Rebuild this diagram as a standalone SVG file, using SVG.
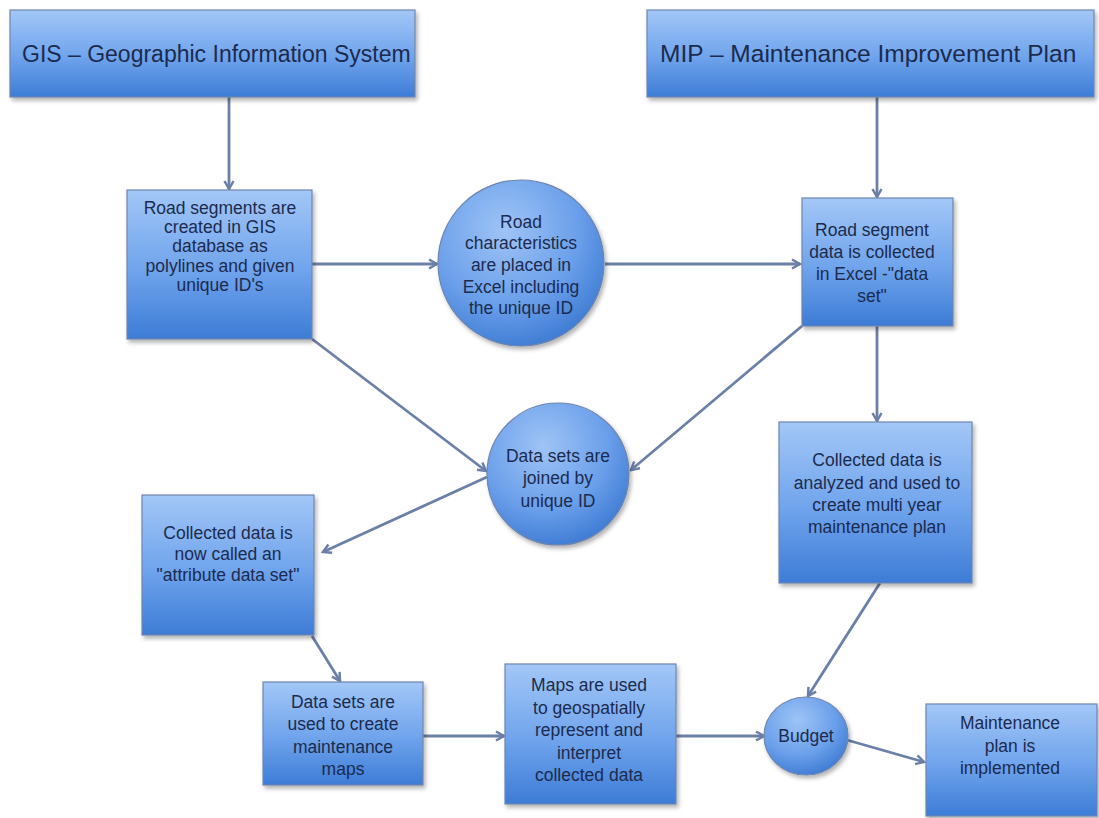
<svg xmlns="http://www.w3.org/2000/svg" width="1099" height="818" viewBox="0 0 1099 818">
<defs>
<linearGradient id="gBox" x1="0" y1="0" x2="0" y2="1">
<stop offset="0" stop-color="#a3c7f7"/>
<stop offset="0.55" stop-color="#6ea3ec"/>
<stop offset="1" stop-color="#3d7cd6"/>
</linearGradient>
<radialGradient id="gCirc" cx="0.4" cy="0.3" r="0.75">
<stop offset="0" stop-color="#9fc4f6"/>
<stop offset="0.6" stop-color="#6a9fea"/>
<stop offset="1" stop-color="#3b79d2"/>
</radialGradient>
<filter id="sh" x="-10%" y="-10%" width="125%" height="125%">
<feDropShadow dx="2" dy="3" stdDeviation="2" flood-color="#000" flood-opacity="0.3"/>
</filter>
<marker id="ah" markerWidth="12" markerHeight="12" refX="10" refY="6" orient="auto" markerUnits="userSpaceOnUse">
<path d="M2,1.5 L10,6 L2,10.5" fill="none" stroke="#6b80a8" stroke-width="2.5" stroke-linejoin="miter"/>
</marker>
</defs>
<style>
.box{fill:url(#gBox);stroke:#6f85ad;stroke-width:1.2;filter:url(#sh)}
.circ{fill:url(#gCirc);stroke:#6f85ad;stroke-width:1.2;filter:url(#sh)}
.t{font-family:"Liberation Sans",Arial,sans-serif;font-size:17.5px;fill:#1c2b4d;text-anchor:middle}
.tt{font-family:"Liberation Sans",Arial,sans-serif;font-size:23px;fill:#1c2b4d}
.c{fill:none;stroke:#6b80a8;stroke-width:2.8;marker-end:url(#ah)}
</style>
<rect width="1099" height="818" fill="#ffffff"/>
<g id="connectors">
<line class="c" x1="229" y1="97" x2="229" y2="189"/>
<line class="c" x1="877" y1="97" x2="877" y2="197"/>
<line class="c" x1="312" y1="264" x2="437" y2="264"/>
<line class="c" x1="605" y1="264" x2="800" y2="264"/>
<line class="c" x1="877" y1="326" x2="877" y2="421"/>
<line class="c" x1="312" y1="339" x2="486" y2="471"/>
<line class="c" x1="802" y1="326" x2="631" y2="470"/>
<line class="c" x1="487" y1="477" x2="323" y2="552"/>
<line class="c" x1="312" y1="636" x2="340" y2="681"/>
<line class="c" x1="423" y1="736" x2="504" y2="736"/>
<line class="c" x1="676" y1="736" x2="764" y2="736"/>
<line class="c" x1="880" y1="583" x2="808" y2="696"/>
<line class="c" x1="847" y1="740" x2="924" y2="762"/>
</g>
<g id="gis">
<rect class="box" x="10" y="10" width="405" height="87"/>
<text class="tt" x="22" y="62">GIS – Geographic Information System</text>
</g>
<g id="mip">
<rect class="box" x="647" y="10" width="447" height="87"/>
<text class="tt" x="660" y="62" style="font-size:24.5px">MIP – Maintenance Improvement Plan</text>
</g>
<g id="road-segments">
<rect class="box" x="127" y="190" width="185" height="149"/>
<text class="t"><tspan x="220" y="214">Road segments are</tspan><tspan x="220" y="233">created in GIS</tspan><tspan x="220" y="252">database as</tspan><tspan x="220" y="272">polylines and given</tspan><tspan x="220" y="291">unique ID's</tspan></text>
</g>
<g id="road-characteristics">
<circle class="circ" cx="521" cy="263" r="83"/>
<text class="t"><tspan x="521" y="228">Road</tspan><tspan x="521" y="249">characteristics</tspan><tspan x="521" y="271">are placed in</tspan><tspan x="521" y="293">Excel including</tspan><tspan x="521" y="314">the unique ID</tspan></text>
</g>
<g id="road-segment-data">
<rect class="box" x="802" y="198" width="151" height="128"/>
<text class="t"><tspan x="872" y="236">Road segment</tspan><tspan x="872" y="258">data is collected</tspan><tspan x="872" y="280">in Excel -"data</tspan><tspan x="872" y="302">set"</tspan></text>
</g>
<g id="data-joined">
<circle class="circ" cx="558" cy="474" r="71"/>
<text class="t"><tspan x="558" y="462">Data sets are</tspan><tspan x="558" y="484">joined by</tspan><tspan x="558" y="507">unique ID</tspan></text>
</g>
<g id="collected-analyzed">
<rect class="box" x="779" y="422" width="193" height="161"/>
<text class="t"><tspan x="877" y="466">Collected data is</tspan><tspan x="877" y="489">analyzed and used to</tspan><tspan x="877" y="511">create multi year</tspan><tspan x="877" y="533">maintenance plan</tspan></text>
</g>
<g id="attribute-data">
<rect class="box" x="142" y="495" width="172" height="140"/>
<text class="t"><tspan x="228" y="539">Collected data is</tspan><tspan x="228" y="560">now called an</tspan><tspan x="228" y="581">"attribute data set"</tspan></text>
</g>
<g id="maintenance-maps">
<rect class="box" x="263" y="682" width="160" height="103"/>
<text class="t"><tspan x="343" y="708">Data sets are</tspan><tspan x="343" y="730">used to create</tspan><tspan x="343" y="753">maintenance</tspan><tspan x="343" y="775">maps</tspan></text>
</g>
<g id="maps-used">
<rect class="box" x="505" y="664" width="171" height="140"/>
<text class="t"><tspan x="589" y="691">Maps are used</tspan><tspan x="589" y="714">to geospatially</tspan><tspan x="589" y="736">represent and</tspan><tspan x="589" y="759">interpret</tspan><tspan x="589" y="781">collected data</tspan></text>
</g>
<g id="budget">
<ellipse class="circ" cx="806" cy="736" rx="42" ry="39"/>
<text class="t" x="806" y="742">Budget</text>
</g>
<g id="implemented">
<rect class="box" x="926" y="704" width="171" height="112"/>
<text class="t"><tspan x="1010" y="729">Maintenance</tspan><tspan x="1010" y="752">plan is</tspan><tspan x="1010" y="774">implemented</tspan></text>
</g>
</svg>
